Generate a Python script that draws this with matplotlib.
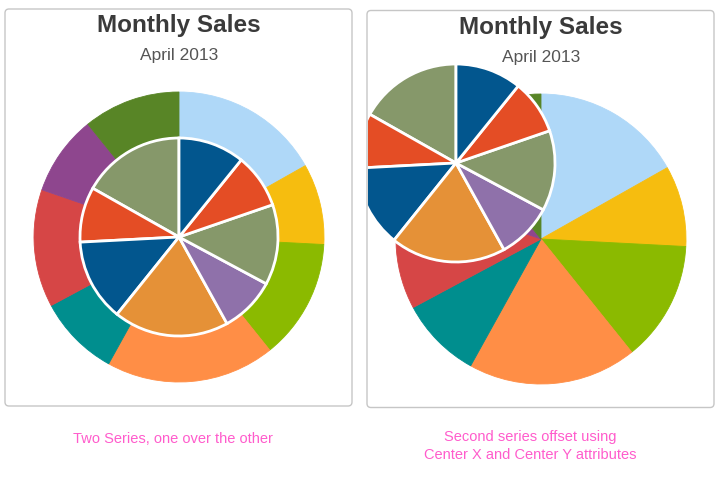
import matplotlib
matplotlib.use("Agg")
import matplotlib.pyplot as plt
from matplotlib.patches import FancyBboxPatch
from matplotlib.transforms import Bbox, TransformedBbox

# sales share per product (percent), same series drawn twice per chart
sales = [16.8, 9.0, 13.4, 18.8, 9.1, 13.1, 8.9, 10.8]
outer_colors = ["#AFD8F8", "#F6BD0F", "#8BBA00", "#FF8E46",
                "#008E8E", "#D64646", "#8E468E", "#588526"]
inner_colors = ["#86986A", "#E44D25", "#02568E", "#E59137", "#8F71AA"]
title = "Monthly Sales"
subtitle = "April 2013"
captions = ["Two Series, one over the other",
            "Second series offset using\nCenter X and Center Y attributes"]

W, H = 719, 491
fig = plt.figure(figsize=(W / 100, H / 100), dpi=100)
ax = fig.add_axes([0, 0, 1, 1])


def Y(py):
    return H - py


def inner_cols(n):
    return [inner_colors[i % len(inner_colors)] for i in range(n)]


def panel(x, y, w, h):
    p = FancyBboxPatch((x, Y(y + h)), w, h,
                       boxstyle="round,pad=0,rounding_size=4",
                       ec="#c6c6c6", fc="white", lw=1.0, zorder=0)
    ax.add_patch(p)
    return p


def heading(cx, ty, sy):
    ax.text(cx, Y(ty), title, ha="center", va="center", fontsize=17.5,
            fontweight="bold", color="#3a3a3a", family="Liberation Sans")
    ax.text(cx, Y(sy), subtitle, ha="center", va="center", fontsize=12.5,
            color="#555555", family="Liberation Sans")


def outer_pie(center):
    wedges, _ = ax.pie(sales, colors=outer_colors, radius=145, center=center,
                       startangle=90, counterclock=False,
                       wedgeprops=dict(lw=0.6))
    for w in wedges:
        w.set_edgecolor(w.get_facecolor())
    return wedges


def inner_pie(center):
    wedges, _ = ax.pie(sales, colors=inner_cols(len(sales)), radius=99,
                       center=center, startangle=90, counterclock=True,
                       wedgeprops=dict(lw=2.0, edgecolor="white"))
    return wedges


# left chart: inner series centered over outer
p1 = panel(5, 9, 347, 397)
heading(179, 25, 55)
outer_pie((179, Y(237)))
inner_pie((179, Y(237)))

# right chart: inner series offset with center x / center y
p2 = panel(367, 10.5, 347, 397)
heading(541, 27, 57)
outer_pie((541, Y(239)))
inner = inner_pie((456, Y(163)))

ax.text(173, Y(439), captions[0], ha="center", va="center", fontsize=10.5,
        color="#ff5ccc", family="Liberation Sans")
ax.text(530, Y(446), captions[1], ha="center", va="center", fontsize=10.5,
        color="#ff5ccc", family="Liberation Sans", linespacing=1.4)

ax.set_aspect("auto")
ax.set_xlim(0, W)
ax.set_ylim(0, H)
ax.axis("off")

# the offset series is cut off by the panel's left edge
clip = TransformedBbox(Bbox.from_extents(367.5, Y(407), 714, Y(10.5)),
                       ax.transData)
for w in inner:
    w.set_clip_on(True)
    w.set_clip_box(clip)

fig.savefig("out.png", dpi=100)
